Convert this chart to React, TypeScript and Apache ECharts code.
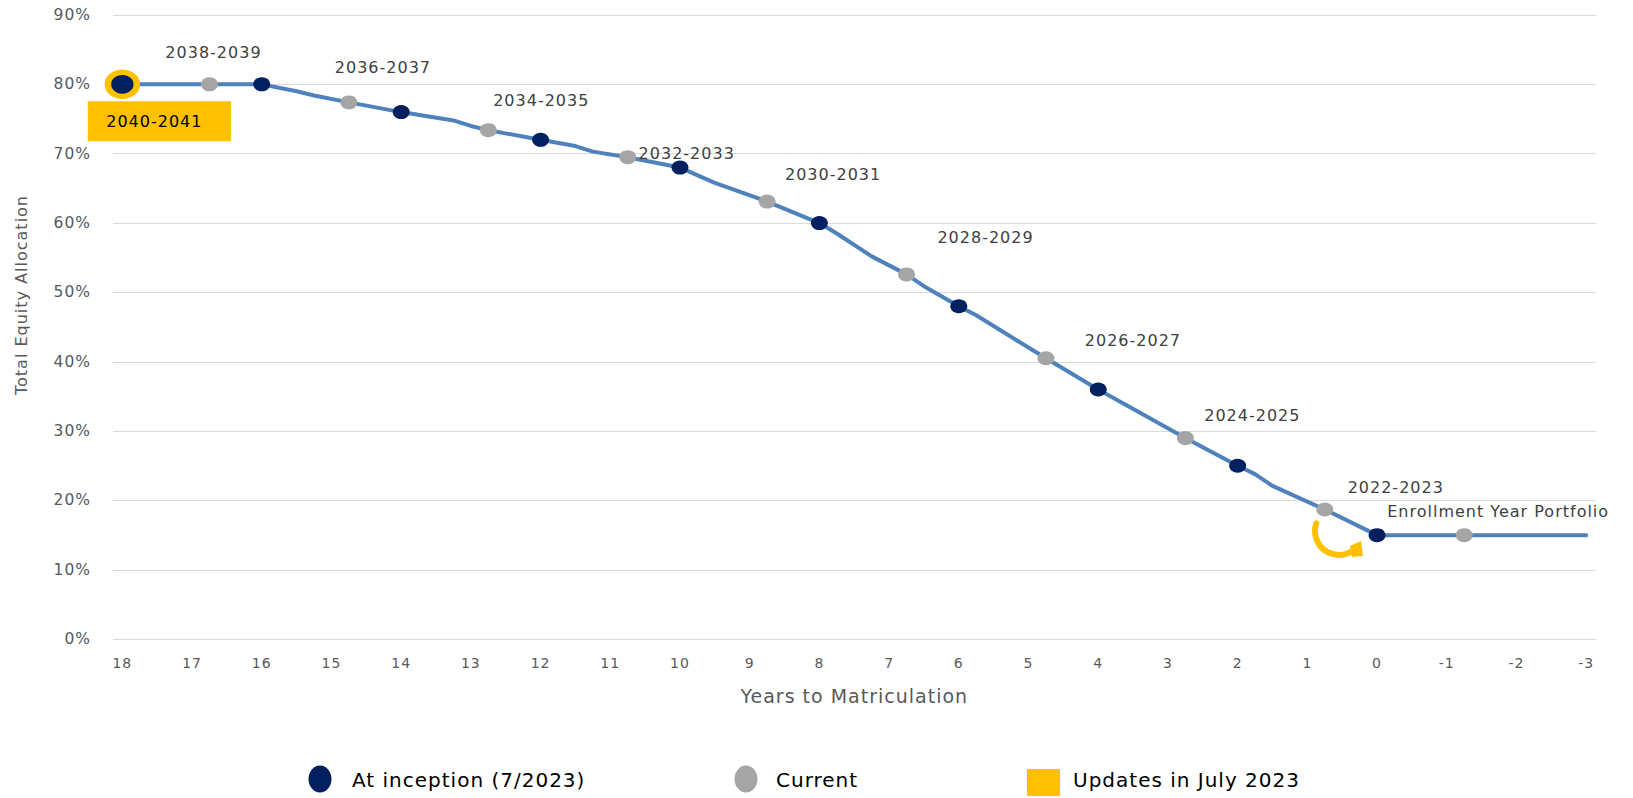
import React, { useEffect, useRef } from "react";
import * as echarts from "echarts";

// Axis ticks: years to matriculation, counting down
const xTicks = [18, 17, 16, 15, 14, 13, 12, 11, 10, 9, 8, 7, 6, 5, 4, 3, 2, 1, 0, -1, -2, -3];

// Glide path at inception (7/2023), one point every two years
const inceptionYears = [18, 16, 14, 12, 10, 8, 6, 4, 2, 0];
const inceptionEquity = [80, 80, 76, 72, 68, 60, 48, 36, 25, 15];

// Where each cohort sits today
const currentYears = [16.75, 14.75, 12.75, 10.75, 8.75, 6.75, 4.75, 2.75, 0.75, -1.25];
const currentEquity = [80, 77.4, 73.4, 69.5, 63.1, 52.6, 40.5, 29, 18.7, 15];
const cohortLabels = [
  "2038-2039",
  "2036-2037",
  "2034-2035",
  "2032-2033",
  "2030-2031",
  "2028-2029",
  "2026-2027",
  "2024-2025",
  "2022-2023",
  "Enrollment Year Portfolio",
];
const newestCohort = "2040-2041";

// Intermediate steps of the glide path between the marked points
const stepYears = [15.5, 15.25, 13.25, 13, 11.5, 11.25, 9.5, 7.75, 7.25, 6.5, 5.75, 1.75, 1.5, -3];
const stepEquity = [79.0, 78.4, 74.8, 74.0, 71.1, 70.3, 65.8, 58.5, 55.2, 50.9, 46.7, 23.8, 22.1, 15];

// Legend entries
const legendNames = ["At inception (7/2023)", "Current", "Updates in July 2023"];

// Label placement (pixel offsets from each "current" marker)
const cohortLabelOffsets = [
  [4, -32],
  [34, -35],
  [53, -30],
  [59, -4],
  [66, -27],
  [79, -37],
  [87, -18],
  [67, -23],
  [71, -22],
  [34, -24],
];

const FONT = "DejaVu Sans";
const NAVY = "#002060";
const GRAY = "#A5A5A5";
const GOLD = "#FFC000";
const LINE_BLUE = "#4F81BD";
const AXIS_TEXT = "#595959";

function buildGlidePath(): number[][] {
  const pts: number[][] = [];
  inceptionYears.forEach((x, i) => pts.push([x, inceptionEquity[i]]));
  currentYears.forEach((x, i) => pts.push([x, currentEquity[i]]));
  stepYears.forEach((x, i) => pts.push([x, stepEquity[i]]));
  pts.sort((a, b) => b[0] - a[0]);
  return pts;
}

export default function App() {
  const ref = useRef<HTMLDivElement>(null);

  useEffect(() => {
    if (!ref.current) return;
    const chart = echarts.init(ref.current, undefined, { renderer: "svg" });

    const inceptionData = inceptionYears.map((x, i) => {
      if (i === 0) {
        return {
          value: [x, inceptionEquity[i]],
          symbolSize: [29, 24],
          itemStyle: { color: NAVY, borderColor: GOLD, borderWidth: 6 },
          label: {
            show: true,
            formatter: newestCohort,
            position: "inside",
            offset: [37, 37],
            backgroundColor: GOLD,
            padding: [12, 33, 12, 23],
            color: "#000000",
            fontFamily: FONT,
            fontSize: 16,
            lineHeight: 16,
          },
        };
      }
      return [x, inceptionEquity[i]];
    });

    const currentData = currentYears.map((x, i) => ({
      value: [x, currentEquity[i]],
      label: {
        show: true,
        formatter: cohortLabels[i],
        position: "inside",
        offset: cohortLabelOffsets[i],
        color: "#404040",
        fontFamily: FONT,
        fontSize: 16,
      },
    }));

    chart.setOption({
      animation: false,
      grid: { left: 113, right: 37.5, top: 15, bottom: 158.8 },
      xAxis: {
        type: "value",
        inverse: true,
        min: -3.134,
        max: 18.134,
        axisLine: { show: false },
        axisTick: { show: false },
        splitLine: { show: false },
        axisLabel: {
          customValues: xTicks,
          color: AXIS_TEXT,
          fontFamily: FONT,
          fontSize: 14,
          margin: 17,
        },
        name: "Years to Matriculation",
        nameLocation: "middle",
        nameGap: 47,
        nameTextStyle: { color: AXIS_TEXT, fontFamily: FONT, fontSize: 19 },
      },
      yAxis: {
        type: "value",
        min: 0,
        max: 90,
        interval: 10,
        axisLine: { show: false },
        axisTick: { show: false },
        axisLabel: {
          formatter: "{value}%",
          color: AXIS_TEXT,
          fontFamily: FONT,
          fontSize: 15.5,
          margin: 22,
        },
        splitLine: { lineStyle: { color: "#D9D9D9", width: 1 } },
      },
      series: [
        {
          type: "line",
          data: buildGlidePath(),
          showSymbol: false,
          silent: true,
          clip: false,
          lineStyle: { color: LINE_BLUE, width: 4, cap: "round", join: "round" },
          z: 2,
        },
        {
          name: legendNames[0],
          type: "scatter",
          data: inceptionData,
          symbol: "circle",
          symbolSize: [17, 14],
          itemStyle: { color: NAVY, opacity: 1 },
          clip: false,
          silent: true,
          z: 4,
        },
        {
          name: legendNames[1],
          type: "scatter",
          data: currentData,
          symbol: "circle",
          symbolSize: [17, 14],
          itemStyle: { color: GRAY, opacity: 1 },
          clip: false,
          silent: true,
          z: 3,
        },
      ],
      graphic: [
        {
          type: "text",
          x: 21,
          y: 295,
          rotation: Math.PI / 2,
          style: {
            text: "Total Equity Allocation",
            fill: AXIS_TEXT,
            font: `16px "${FONT}"`,
            align: "center",
            verticalAlign: "middle",
          },
        },
        // curved update arrow near the enrollment year
        {
          type: "arc",
          shape: { cx: 1339, cy: 531, r: 24, startAngle: 0.69, endAngle: 3.47, clockwise: true },
          style: { stroke: GOLD, lineWidth: 6, fill: "none", lineCap: "round" },
        },
        {
          type: "polygon",
          shape: { points: [[1350, 546], [1361, 541], [1363, 556], [1352, 557]] },
          style: { fill: GOLD },
        },
        // legend
        {
          type: "ellipse",
          shape: { cx: 320, cy: 779, rx: 11.5, ry: 13.5 },
          style: { fill: NAVY },
        },
        {
          type: "text",
          x: 352,
          y: 780,
          style: {
            text: legendNames[0],
            fill: "#000000",
            font: `20px "${FONT}"`,
            verticalAlign: "middle",
          },
        },
        {
          type: "ellipse",
          shape: { cx: 746, cy: 779, rx: 11.5, ry: 13.5 },
          style: { fill: GRAY },
        },
        {
          type: "text",
          x: 776,
          y: 780,
          style: {
            text: legendNames[1],
            fill: "#000000",
            font: `20px "${FONT}"`,
            verticalAlign: "middle",
          },
        },
        {
          type: "rect",
          shape: { x: 1027, y: 769, width: 33, height: 27 },
          style: { fill: GOLD },
        },
        {
          type: "text",
          x: 1073,
          y: 780,
          style: {
            text: legendNames[2],
            fill: "#000000",
            font: `20px "${FONT}"`,
            verticalAlign: "middle",
          },
        },
      ],
    });

    return () => chart.dispose();
  }, []);

  return (
    <>
      <style>{`.glide-chart text { letter-spacing: 1px; }`}</style>
      <div
        ref={ref}
        className="glide-chart"
        style={{ position: "fixed", left: 0, top: 0, width: 1633, height: 798, background: "#ffffff" }}
      />
    </>
  );
}
